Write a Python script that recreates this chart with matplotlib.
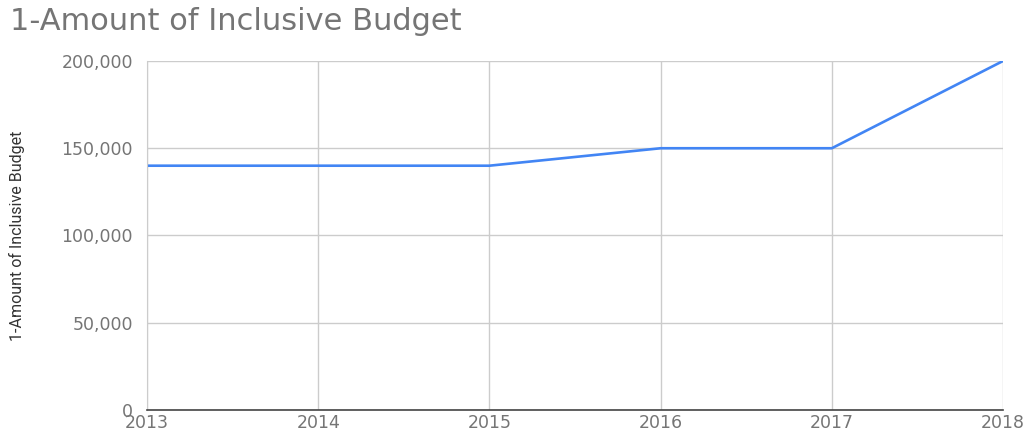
import matplotlib.pyplot as plt
from matplotlib.ticker import FuncFormatter

# data
years = [2013, 2014, 2015, 2016, 2017, 2018]
budget = [140000, 140000, 140000, 150000, 150000, 200000]

plt.rcParams['font.family'] = ['DejaVu Sans']

fig = plt.figure(figsize=(10.29, 4.34), dpi=100)
ax = fig.add_axes([147/1029, 1 - 410/434, (1003 - 147)/1029, (410 - 61)/434])

ax.plot(years, budget, color='#4285F4', linewidth=1.9, solid_joinstyle='round')

ax.set_xlim(2013, 2018)
ax.set_ylim(0, 200000)
ax.set_xticks(years)
ax.set_yticks([0, 50000, 100000, 150000, 200000])
ax.yaxis.set_major_formatter(FuncFormatter(lambda v, p: f'{int(v):,}'))

ax.grid(True, color='#cccccc', linewidth=1)
ax.set_axisbelow(True)
for s in ['top', 'right']:
    ax.spines[s].set_visible(False)
ax.spines['left'].set_color('#cccccc')
ax.spines['bottom'].set_color('#444444')
ax.spines['bottom'].set_linewidth(1.2)
ax.tick_params(length=0, labelsize=12.5, colors='#757575')
ax.tick_params(axis='x', pad=3)
ax.tick_params(axis='y', pad=10)

ax.set_ylabel('1-Amount of Inclusive Budget', fontsize=11.5, color='#333333',
              family=['Roboto'], labelpad=0)
ax.yaxis.set_label_coords(-122/856, 0.5)

fig.text(10/1029, 1 - 22/434, '1-Amount of Inclusive Budget', fontsize=22,
         color='#757575', va='center', ha='left')

fig.savefig('out.png', dpi=100)
